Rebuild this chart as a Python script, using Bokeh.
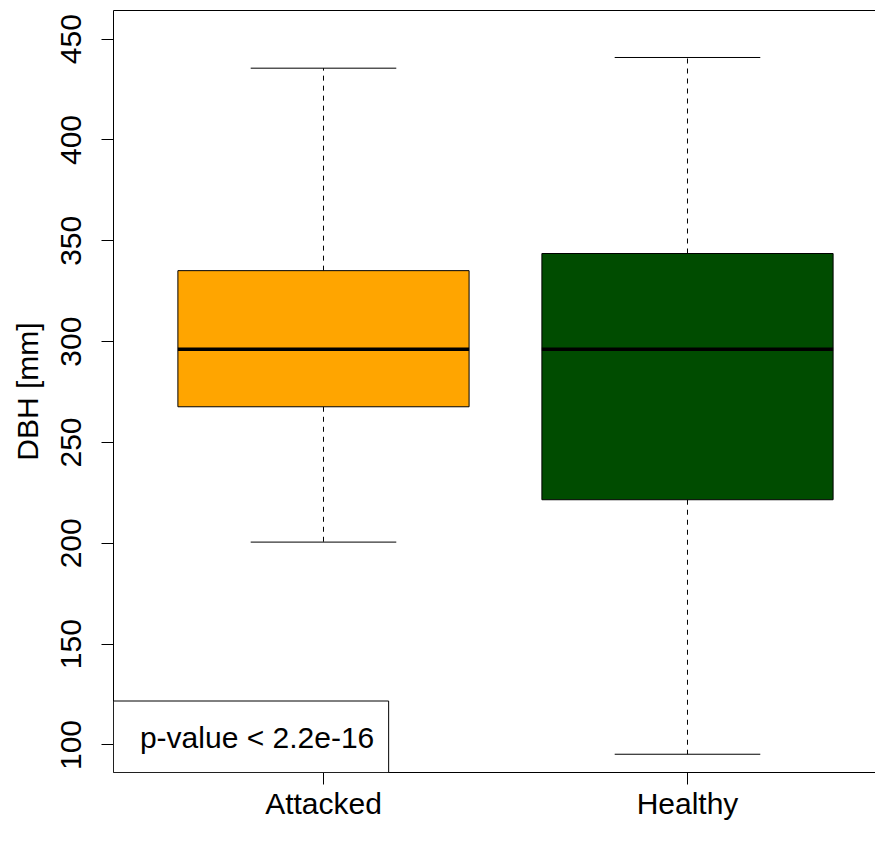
from bokeh.plotting import figure
from bokeh.models import LinearAxis, FixedTicker, Range1d, Label, BoxAnnotation, ColumnDataSource
from bokeh.embed import file_html
from bokeh.resources import INLINE

# ---- data ----
groups = ["Attacked", "Healthy"]
lower_whisker = [200.6, 95.4]
q1 = [267.7, 221.6]
median = [296.2, 296.2]
q3 = [335.2, 343.7]
upper_whisker = [435.6, 440.9]
fill_colors = ["#FFA500", "#004C00"]
y_ticks = [100, 150, 200, 250, 300, 350, 400, 450]
p_text = "p-value < 2.2e-16"

FONT = "Liberation Sans"
pos = [i + 1 for i in range(len(groups))]
box_w = 0.8
cap_w = 0.4

src = ColumnDataSource(dict(
    x=pos, lw=lower_whisker, q1=q1, med=median, q3=q3, uw=upper_whisker,
    color=fill_colors,
    bl=[p - box_w / 2 for p in pos], br=[p + box_w / 2 for p in pos],
    cl=[p - cap_w / 2 for p in pos], cr=[p + cap_w / 2 for p in pos],
))

x0, x1 = 0.4231, 2.5165
y0, y1 = 86.35, 464.2

p = figure(width=875, height=834, output_backend="svg", toolbar_location=None,
           x_range=Range1d(x0, x1), y_range=Range1d(y0, y1),
           min_border_left=113, min_border_top=10, min_border_right=0, min_border_bottom=62,
           background_fill_color="white", border_fill_color="white")
p.outline_line_color = None
p.xgrid.visible = False
p.ygrid.visible = False

# whiskers (dashed)
p.segment(x0="x", y0="q3", x1="x", y1="uw", source=src, line_color="black", line_width=1, line_dash="5 5")
p.segment(x0="x", y0="q1", x1="x", y1="lw", source=src, line_color="black", line_width=1, line_dash="5 5")
# caps
p.segment(x0="cl", y0="uw", x1="cr", y1="uw", source=src, line_color="black", line_width=1)
p.segment(x0="cl", y0="lw", x1="cr", y1="lw", source=src, line_color="black", line_width=1)
# boxes
p.quad(left="bl", right="br", bottom="q1", top="q3", source=src, fill_color="color",
       line_color="black", line_width=1)
# medians
p.segment(x0="bl", y0="med", x1="br", y1="med", source=src, line_color="black", line_width=3.5)

# axes styling
for ax in (p.xaxis[0], p.yaxis[0]):
    ax.axis_line_color = "black"
    ax.axis_line_width = 1
    ax.major_tick_line_color = "black"
    ax.major_tick_out = 12
    ax.major_tick_in = 0
    ax.minor_tick_line_color = None
    ax.major_label_text_font = FONT
    ax.major_label_text_font_size = "30px"
    ax.major_label_text_color = "black"

p.xaxis[0].ticker = FixedTicker(ticks=pos)
p.xaxis[0].major_label_overrides = {pp: g for pp, g in zip(pos, groups)}
p.xaxis[0].major_label_standoff = 2

p.yaxis[0].ticker = FixedTicker(ticks=y_ticks)
p.yaxis[0].major_label_orientation = "vertical"
p.yaxis[0].major_label_standoff = 20
p.yaxis[0].axis_label = "DBH [mm]"
p.yaxis[0].axis_label_text_font = FONT
p.yaxis[0].axis_label_text_font_size = "30px"
p.yaxis[0].axis_label_text_font_style = "normal"
p.yaxis[0].axis_label_text_color = "black"
p.yaxis[0].axis_label_standoff = 15

# top frame line
top = LinearAxis(ticker=FixedTicker(ticks=[]), major_label_text_font_size="0px",
                 axis_line_color="black", axis_line_width=1,
                 major_tick_line_color=None, minor_tick_line_color=None)
p.add_layout(top, "above")

# p-value legend box
p.add_layout(BoxAnnotation(left=x0, right=1.179, bottom=y0, top=121.8,
                           fill_color="white", fill_alpha=1.0,
                           line_color="black", line_alpha=1.0, line_width=1))
p.add_layout(Label(x=0.4957, y=103.5, text=p_text, text_font=FONT, text_font_size="30px",
                   text_align="left", text_baseline="middle", text_color="black"))

open("out.html", "w").write(file_html(p, INLINE))
